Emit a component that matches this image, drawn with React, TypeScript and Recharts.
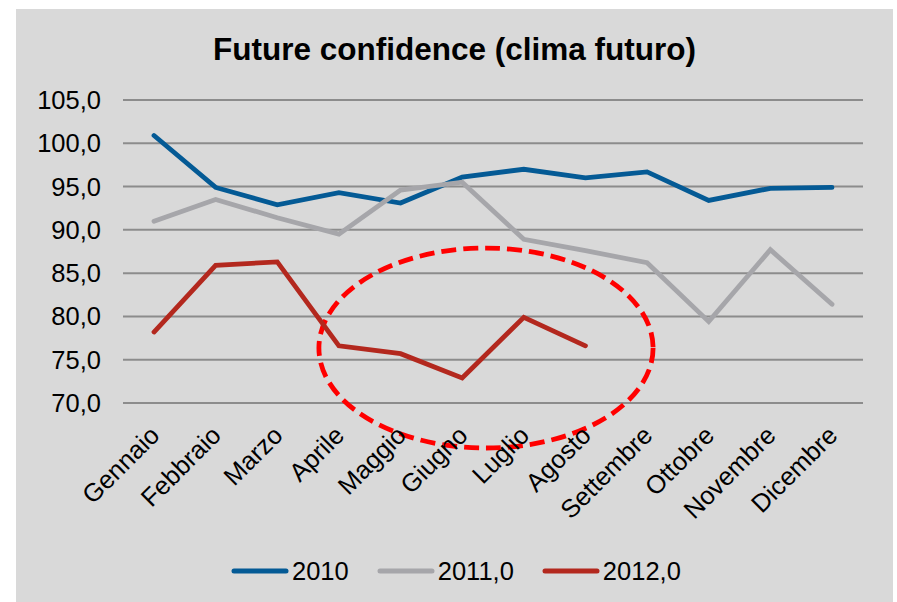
import { LineChart, Line, XAxis, YAxis, CartesianGrid, Legend, ReferenceArea } from 'recharts'

const months = [
  'Gennaio', 'Febbraio', 'Marzo', 'Aprile', 'Maggio', 'Giugno',
  'Luglio', 'Agosto', 'Settembre', 'Ottobre', 'Novembre', 'Dicembre',
]
const values2010 = [100.9, 94.9, 92.9, 94.3, 93.1, 96.1, 97.0, 96.0, 96.7, 93.4, 94.8, 94.9]
const values2011 = [91.0, 93.5, 91.4, 89.5, 94.6, 95.5, 88.9, 87.6, 86.2, 79.4, 87.7, 81.4]
const values2012 = [78.2, 85.9, 86.3, 76.6, 75.7, 72.9, 79.9, 76.6]
const yTicks = [70, 75, 80, 85, 90, 95, 100, 105]

// highlighted zone (dashed ellipse) in data terms
const zoneFrom = 'Aprile'
const zoneTo = 'Settembre'
const zoneLow = 64.8
const zoneHigh = 87.9

const series = [
  { key: 's2010', name: '2010', color: '#045a95' },
  { key: 's2011', name: '2011,0', color: '#a6a6aa' },
  { key: 's2012', name: '2012,0', color: '#b3281e' },
]

const data = months.map((m, i) => ({
  month: m,
  s2010: values2010[i],
  s2011: values2011[i],
  s2012: i < values2012.length ? values2012[i] : null,
}))

const FONT = '"Liberation Sans", Arial, sans-serif'

const fmt = (v: number) => v.toFixed(1).replace('.', ',')

function MonthTick(props: any) {
  const { x, y, payload } = props
  return (
    <g transform={`translate(${x + 7},${y + 26})`}>
      <text textAnchor="end" transform="rotate(-45)" fontSize={25.5} fill="#000" fontFamily={FONT}>
        {payload.value}
      </text>
    </g>
  )
}

function Ellipse(props: any) {
  const { x, y, width, height } = props
  const cx = x + width / 2 - 7
  const cy = y + height / 2
  return (
    <ellipse
      cx={cx}
      cy={cy}
      rx={width / 2 + 13}
      ry={height / 2}
      fill="none"
      stroke="#ff0000"
      strokeWidth={4.8}
      strokeDasharray="15 7"
    />
  )
}

function LegendContent() {
  return (
    <div style={{ display: 'flex', alignItems: 'center', height: 34, fontFamily: FONT, fontSize: 25.5, color: '#000' }}>
      {series.map((s, i) => (
        <div key={s.key} style={{ display: 'flex', alignItems: 'center', marginRight: i < 2 ? 28 : 0 }}>
          <svg width={58} height={10} style={{ marginRight: 3 }}>
            <line x1={3} y1={5} x2={55} y2={5} stroke={s.color} strokeWidth={5} strokeLinecap="round" />
          </svg>
          <span>{s.name}</span>
        </div>
      ))}
    </div>
  )
}

export default function App() {
  return (
    <div style={{ position: 'absolute', left: 0, top: 0, width: 897, height: 602, background: '#fff', overflow: 'hidden' }}>
      <div style={{ position: 'absolute', left: 16, top: 9, width: 877, height: 593, background: '#d9d9d9' }}>
        <div
          style={{
            position: 'absolute', left: 0, top: 24, width: 877, textAlign: 'center',
            fontFamily: FONT, fontWeight: 'bold', fontSize: 31.5, lineHeight: '32px', color: '#000',
          }}
        >
          Future confidence (clima futuro)
        </div>
        <LineChart width={877} height={593} data={data} margin={{ top: 91, right: 30, bottom: 14, left: 0 }}>
          <CartesianGrid vertical={false} stroke="#8c8c8c" strokeWidth={2} />
          <XAxis
            dataKey="month"
            axisLine={false}
            tickLine={false}
            interval={0}
            height={151}
            padding={{ left: 31, right: 31 }}
            tick={<MonthTick />}
          />
          <YAxis
            domain={[70, 105]}
            ticks={yTicks}
            axisLine={false}
            tickLine={false}
            width={107}
            tickMargin={16}
            tickFormatter={fmt}
            tick={{ fontSize: 25.5, fill: '#000', fontFamily: FONT }}
          />
          {series.map((s) => (
            <Line
              key={s.key}
              dataKey={s.key}
              name={s.name}
              stroke={s.color}
              strokeWidth={4.8}
              strokeLinecap="round"
              dot={false}
              activeDot={false}
              isAnimationActive={false}
              type="linear"
            />
          ))}
          <ReferenceArea
            x1={zoneFrom}
            x2={zoneTo}
            y1={zoneLow}
            y2={zoneHigh}
            ifOverflow="visible"
            shape={<Ellipse />}
          />
          <Legend
            verticalAlign="bottom"
            content={<LegendContent />}
            wrapperStyle={{ left: 215, width: 540 }}
          />
        </LineChart>
      </div>
    </div>
  )
}
